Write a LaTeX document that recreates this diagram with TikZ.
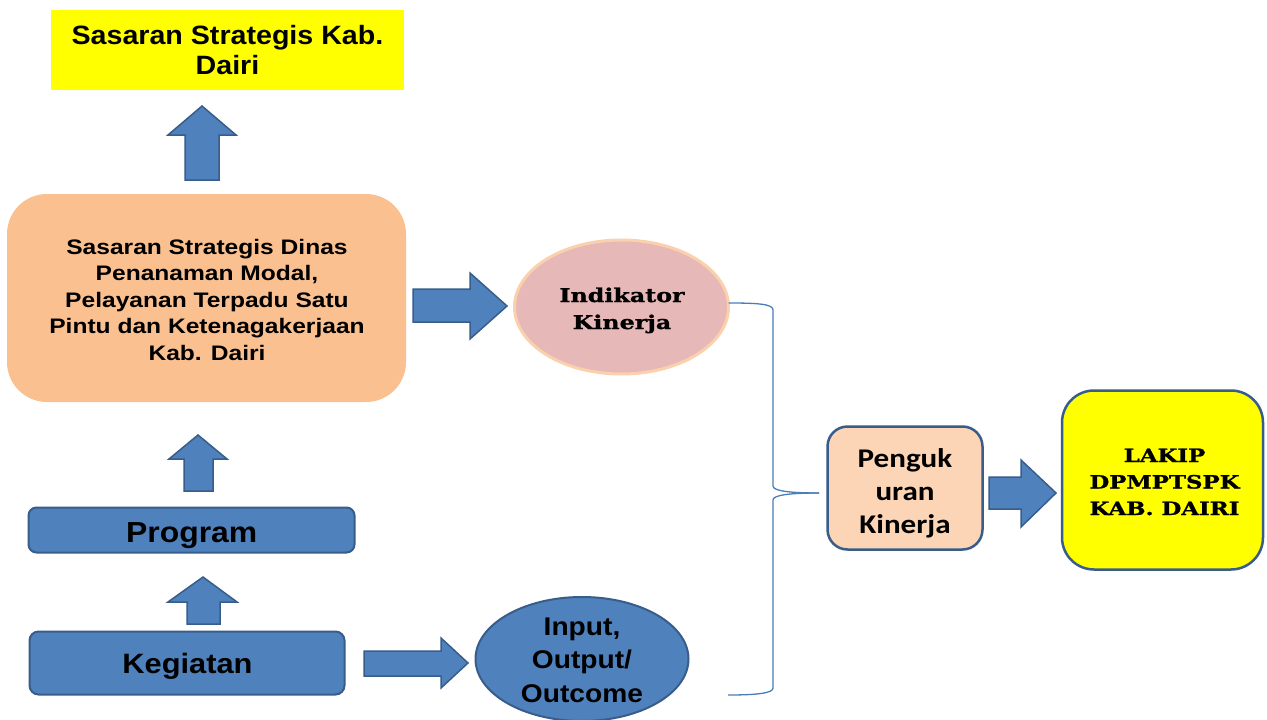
\documentclass[tikz,border=0pt]{standalone}
\usepackage{fontspec}
\usetikzlibrary{shapes.geometric,calc}
\newfontfamily\arA[FakeStretch=1.08]{Liberation Sans}
\newfontfamily\arB[FakeStretch=1.17]{Liberation Sans}
\newfontfamily\arC[FakeStretch=1.1]{Liberation Sans}
\newfontfamily\calA[FakeStretch=1.15]{Carlito}
\newfontfamily\bkA[FakeStretch=1.25, BoldFeatures={FakeBold=1.2}]{DejaVu Serif}
\definecolor{cBlu}{HTML}{4F81BD}
\definecolor{cBluD}{HTML}{385D8A}
\definecolor{cOrg}{HTML}{FAC090}
\definecolor{cPink}{HTML}{E6B9B8}
\definecolor{cPeach}{HTML}{FBD5B5}
\definecolor{cPeachB}{HTML}{FBD0AC}
\definecolor{cYel}{HTML}{FFFF00}
\definecolor{cLine}{HTML}{4A7EBB}
\begin{document}
\begin{tikzpicture}[x=1pt,y=-1pt,
  shapebox/.style={inner sep=0pt, outer sep=0pt},
  blk/.style={fill=cBlu, draw=cBluD, line width=1.5pt, line join=miter},
  txt/.style={inner sep=0pt, outer sep=0pt, anchor=base, text=black},
  brace/.style={draw=cLine, line width=1.3pt}]
\useasboundingbox (0,0) rectangle (1267,720);
\fill[white] (0,0) rectangle (1267,720);

% shapes
\node[shapebox, rectangle, fill=cYel, minimum width=353pt, minimum height=80pt] (title) at (227.5,49.5) {};
\node[shapebox, rectangle, rounded corners=40pt, fill=cOrg, minimum width=399pt, minimum height=208pt] (dinas) at (206.5,298) {};
\node[shapebox, ellipse, fill=cPink, draw=cPeachB, line width=3pt, minimum width=214pt, minimum height=134pt] (ind) at (621.5,307) {};
\node[shapebox, rectangle, rounded corners=20pt, fill=cPeach, draw=cBluD, line width=2.5pt, minimum width=155pt, minimum height=123pt] (peng) at (905,488) {};
\node[shapebox, rectangle, rounded corners=32pt, fill=cYel, draw=cBluD, line width=2.5pt, minimum width=201pt, minimum height=179pt] (lakip) at (1162.5,480) {};
\node[shapebox, rectangle, rounded corners=8pt, fill=cBlu, draw=cBluD, line width=2pt, minimum width=326pt, minimum height=45pt] (prog) at (191.5,530) {};
\node[shapebox, rectangle, rounded corners=9pt, fill=cBlu, draw=cBluD, line width=2pt, minimum width=315pt, minimum height=63pt] (keg) at (187,663) {};
\node[shapebox, ellipse, fill=cBlu, draw=cBluD, line width=2pt, minimum width=213pt, minimum height=124pt] (io) at (582,659) {};

% texts
\node[txt] (tTitle) at (227.5,45) {\arA\bfseries\fontsize{26.5}{29}\selectfont\begin{tabular}[t]{@{}c@{}}Sasaran Strategis Kab.\\Dairi\end{tabular}};
\node[txt] (tDinas) at (207,254) {\arB\bfseries\fontsize{21}{26.5}\selectfont\begin{tabular}[t]{@{}c@{}}Sasaran Strategis Dinas\\Penanaman Modal,\\Pelayanan Terpadu Satu\\Pintu dan Ketenagakerjaan\\Kab. Dairi\end{tabular}};
\node[txt] (tInd) at (622,302) {\bkA\bfseries\fontsize{19}{27}\selectfont\begin{tabular}[t]{@{}c@{}}Indikator\\Kinerja\end{tabular}};
\node[txt] (tPeng) at (905,467) {\calA\bfseries\fontsize{27}{33}\selectfont\begin{tabular}[t]{@{}c@{}}Penguk\\uran\\Kinerja\end{tabular}};
\node[txt] (tLakip) at (1164.5,462) {\bkA\bfseries\fontsize{18.3}{26.5}\selectfont\begin{tabular}[t]{@{}c@{}}LAKIP\\DPMPTSPK\\KAB. DAIRI\end{tabular}};
\node[txt] (tProg) at (191.7,542) {\arC\bfseries\fontsize{29}{32}\selectfont Program};
\node[txt] (tKeg) at (187.5,673) {\arC\bfseries\fontsize{28}{32}\selectfont Kegiatan};
\node[txt] (tIO) at (582,635) {\arC\bfseries\fontsize{25.6}{33.8}\selectfont\begin{tabular}[t]{@{}c@{}}Input,\\Output/\\Outcome\end{tabular}};

% block arrows
\draw[blk] (185,180) -- (185,135) -- (168,135) -- (202,106) -- (236,135) -- (219,135) -- (219,180) -- cycle;
\draw[blk] (184,491) -- (184,459) -- (169,459) -- (198,435) -- (227,459) -- (213,459) -- (213,491) -- cycle;
\draw[blk] (187,624) -- (187,602) -- (168,602) -- (203,577) -- (237,602) -- (220,602) -- (220,624) -- cycle;
\draw[blk] (413,289) -- (470,289) -- (470,273) -- (507,306) -- (470,339) -- (470,322) -- (413,322) -- cycle;
\draw[blk] (364,651) -- (441,651) -- (441,638) -- (468,663) -- (441,688) -- (441,676) -- (364,676) -- cycle;
\draw[blk] (989,477) -- (1021,477) -- (1021,460) -- (1056,493) -- (1021,527) -- (1021,509) -- (989,509) -- cycle;

% brace
\coordinate (tip) at (819,493);
\draw[brace] ($(ind.east)+(0,-4)$) .. controls (758,303) and (773,304) .. (773,310) -- (773,486) .. controls (773,491) and (790,493) .. (tip);
\draw[brace] (tip) .. controls (790,493) and (773,495) .. (773,500) -- (773,688) .. controls (773,693) and (758,695) .. (728,695);
\end{tikzpicture}
\end{document}
